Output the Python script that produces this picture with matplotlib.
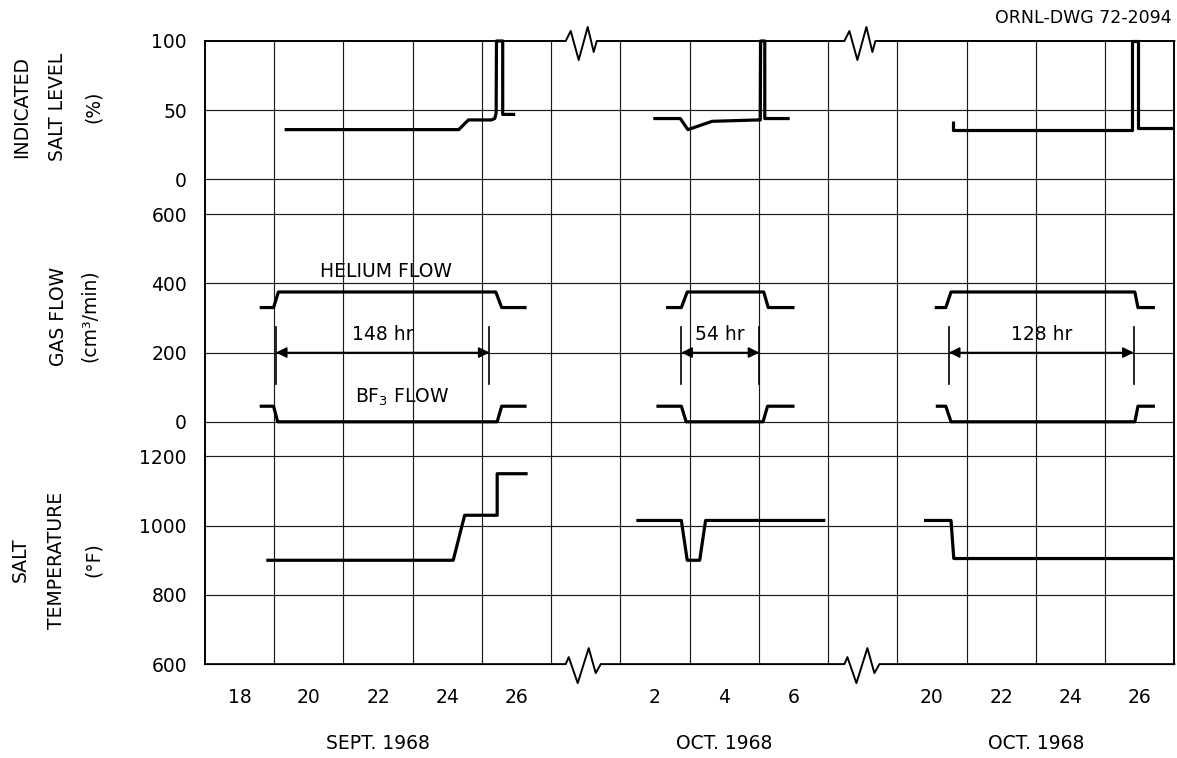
import numpy as np
import matplotlib
matplotlib.use("Agg")
import matplotlib.pyplot as plt
from matplotlib.lines import Line2D

plt.rcParams["font.family"] = ["DejaVu Sans"]
plt.rcParams["mathtext.fontset"] = "dejavusans"

# ---------------------------------------------------------------------------
# Time is counted in elapsed days from Aug 31, 1968 (Sept d -> d, Oct d -> 30 + d)
# The time axis is broken: Sept 17-27, Oct 1-7, Oct 19-27.
AXIS_DAYS = [17, 27, 31, 37, 49, 57]
AXIS_CELLS = [0, 5, 6, 9, 10, 14]

GRID_DAYS = [19, 21, 23, 25, 27, 31, 33, 35, 37, 49, 51, 53, 55]
TICK_DAYS = [18, 20, 22, 24, 26, 32, 34, 36, 50, 52, 54, 56]
TICK_LABELS = ["18", "20", "22", "24", "26", "2", "4", "6", "20", "22", "24", "26"]
MONTH_LABELS = ["SEPT. 1968", "OCT. 1968", "OCT. 1968"]
MONTH_CENTERS = [22, 34, 53]
BREAK_DAYS = [27.84, 39.82]

# Indicated salt level (%)
LEVEL_SEPT_DAY = [19.30, 24.33, 24.61, 25.27, 25.37, 25.41, 25.42, 25.60, 25.60, 25.96]
LEVEL_SEPT_PCT = [36, 36, 43, 43, 44, 48, 100, 100, 47, 47]
LEVEL_OCTA_DAY = [31.95, 32.73, 32.95, 33.65, 34.98, 35.04, 35.05, 35.17, 35.17, 35.89]
LEVEL_OCTA_PCT = [44, 44, 36, 42, 43, 43, 100, 100, 44, 44]
LEVEL_OCTB_DAY = [50.60, 50.60, 55.78, 55.78, 55.95, 55.95, 57.0]
LEVEL_OCTB_PCT = [42, 36, 36, 100, 100, 37, 37]

# Gas flow (cm3/min)
HE_SEPT_DAY = [18.58, 18.98, 19.12, 25.40, 25.57, 26.29]
HE_OCTA_DAY = [32.32, 32.76, 32.93, 35.14, 35.27, 36.03]
HE_OCTB_DAY = [50.08, 50.40, 50.55, 55.86, 55.95, 56.44]
HE_FLOW = [330, 330, 375, 375, 330, 330]

BF3_SEPT_DAY = [18.58, 18.98, 19.10, 25.44, 25.57, 26.29]
BF3_OCTA_DAY = [32.04, 32.76, 32.90, 35.12, 35.25, 36.03]
BF3_OCTB_DAY = [50.11, 50.40, 50.55, 55.86, 55.95, 56.44]
BF3_FLOW = [45, 45, 0, 0, 45, 45]

# BF3 sparging periods
SPARGE_START = [19.05, 32.76, 50.49]
SPARGE_HOURS = [148, 54, 128]

# Salt temperature (F)
TEMP_SEPT_DAY = [18.77, 24.17, 24.50, 25.44, 25.44, 26.32]
TEMP_SEPT_F = [900, 900, 1030, 1030, 1150, 1150]
TEMP_OCTA_DAY = [31.46, 32.76, 32.93, 33.29, 33.46, 36.92]
TEMP_OCTA_F = [1015, 1015, 900, 900, 1015, 1015]
TEMP_OCTB_DAY = [49.77, 50.55, 50.63, 57.0]
TEMP_OCTB_F = [1015, 1015, 905, 905]

# ---------------------------------------------------------------------------
W, H = 1177, 758
fig = plt.figure(figsize=(W / 100, H / 100), dpi=100)
fig.patch.set_facecolor("white")

LEFT, RIGHT, TOP = 205.0, 1174.3, 41.0
CELL = (RIGHT - LEFT) / 14


def rect(top_px, bottom_px):
    return [LEFT / W, 1 - bottom_px / H, (RIGHT - LEFT) / W, (bottom_px - top_px) / H]


ax_lvl = fig.add_axes(rect(TOP, TOP + 2.5 * CELL))
ax_flow = fig.add_axes(rect(TOP + 2.5 * CELL, TOP + 6 * CELL))
ax_temp = fig.add_axes(rect(TOP + 6 * CELL, TOP + 9 * CELL))


def fwd(x):
    return np.interp(x, AXIS_DAYS, AXIS_CELLS)


def inv(u):
    return np.interp(u, AXIS_CELLS, AXIS_DAYS)


FS = 13.5
GRID_KW = dict(color="#1a1a1a", lw=0.85)
DATA_KW = dict(color="black", lw=2.3, clip_on=False, solid_capstyle="butt")

panels = [
    (ax_lvl, (-25, 100), [0, 50, 100], [0, 50]),
    (ax_flow, (-100, 600), [0, 200, 400, 600], [0, 200, 400, 600]),
    (ax_temp, (600, 1200), [600, 800, 1000, 1200], [800, 1000, 1200]),
]
for ax, ylim, yticks, hlines in panels:
    ax.set_xscale("function", functions=(fwd, inv))
    ax.set_xlim(AXIS_DAYS[0], AXIS_DAYS[-1])
    ax.set_ylim(*ylim)
    ax.set_yticks(yticks, labels=[str(v) for v in yticks])
    ax.tick_params(axis="y", length=0, pad=13, labelsize=FS)
    for s in ("top", "bottom"):
        ax.spines[s].set_visible(False)
    for s in ("left", "right"):
        ax.spines[s].set_linewidth(1.4)
    for d in GRID_DAYS:
        ax.axvline(d, **GRID_KW)
    for v in hlines:
        ax.axhline(v, clip_on=False, **GRID_KW)

ax_lvl.set_xticks([])
ax_flow.set_xticks([])
ax_temp.set_xticks(TICK_DAYS, labels=TICK_LABELS)
ax_temp.tick_params(axis="x", length=0, pad=17, labelsize=FS)
for c, lab in zip(MONTH_CENTERS, MONTH_LABELS):
    ax_temp.text(c, -0.38, lab, transform=ax_temp.get_xaxis_transform(),
                 ha="center", va="center", fontsize=FS)

# Salt level
for d, v in [(LEVEL_SEPT_DAY, LEVEL_SEPT_PCT), (LEVEL_OCTA_DAY, LEVEL_OCTA_PCT),
             (LEVEL_OCTB_DAY, LEVEL_OCTB_PCT)]:
    ax_lvl.plot(d, v, **DATA_KW)

# Gas flows
for d in (HE_SEPT_DAY, HE_OCTA_DAY, HE_OCTB_DAY):
    ax_flow.plot(d, HE_FLOW, **DATA_KW)
for d in (BF3_SEPT_DAY, BF3_OCTA_DAY, BF3_OCTB_DAY):
    ax_flow.plot(d, BF3_FLOW, **DATA_KW)

ax_flow.text(22.23, 435, "HELIUM FLOW", ha="center", va="center", fontsize=FS)
ax_flow.text(22.71, 72, "BF$_3$ FLOW", ha="center", va="center", fontsize=FS)

# Duration of each sparging period
for start, hours in zip(SPARGE_START, SPARGE_HOURS):
    end = start + hours / 24.0
    for x in (start, end):
        ax_flow.plot([x, x], [110, 275], color="black", lw=1.2)
    ax_flow.annotate("", xy=(end, 200), xytext=(start, 200),
                     arrowprops=dict(arrowstyle="<|-|>", color="black", lw=1.2,
                                     mutation_scale=16, shrinkA=0, shrinkB=0))
    mid = inv((fwd(start) + fwd(end)) / 2)
    ax_flow.text(mid, 252, f"{hours} hr", ha="center", va="center", fontsize=FS)

# Salt temperature
for d, v in [(TEMP_SEPT_DAY, TEMP_SEPT_F), (TEMP_OCTA_DAY, TEMP_OCTA_F),
             (TEMP_OCTB_DAY, TEMP_OCTB_F)]:
    ax_temp.plot(d, v, **DATA_KW)

# Outer top and bottom edges, with break symbols at the gaps in time
TOP_ZIG = [(0, 0), (5, 10), (13, -19), (22, 14), (28, -11), (31, 0)]
BOTTOM_ZIG = [(0, 0), (3, 7), (12, -19), (23, 16), (30, -9), (35, 0)]


def edge_with_breaks(ax, yval, zig):
    tr = ax.transData
    pts = [tr.transform((AXIS_DAYS[0], yval))]
    for b in BREAK_DAYS:
        x0, y0 = tr.transform((b, yval))
        pts += [(x0 + dx, y0 + dy) for dx, dy in zig]
    pts.append(tr.transform((AXIS_DAYS[-1], yval)))
    pts = np.asarray(pts) / fig.dpi
    fig.add_artist(Line2D(pts[:, 0], pts[:, 1], transform=fig.dpi_scale_trans,
                          color="black", lw=1.4))


edge_with_breaks(ax_lvl, 100, TOP_ZIG)
edge_with_breaks(ax_temp, 600, BOTTOM_ZIG)

# Axis titles
fig.text(57.5 / W, 1 - 107 / H, "INDICATED\nSALT LEVEL\n(%)", rotation=90,
         ha="center", va="center", multialignment="center", linespacing=2.1, fontsize=FS)
fig.text(73.5 / W, 1 - 316 / H, "GAS FLOW\n(cm³/min)", rotation=90,
         ha="center", va="center", multialignment="center", linespacing=1.8, fontsize=FS)
fig.text(56.8 / W, 1 - 560 / H, "SALT\nTEMPERATURE\n(°F)", rotation=90,
         ha="center", va="center", multialignment="center", linespacing=2.2, fontsize=FS)

fig.text(1172 / W, 1 - 18 / H, "ORNL-DWG 72-2094", ha="right", va="center", fontsize=12.5)

fig.savefig("out.png", dpi=100, facecolor="white")
